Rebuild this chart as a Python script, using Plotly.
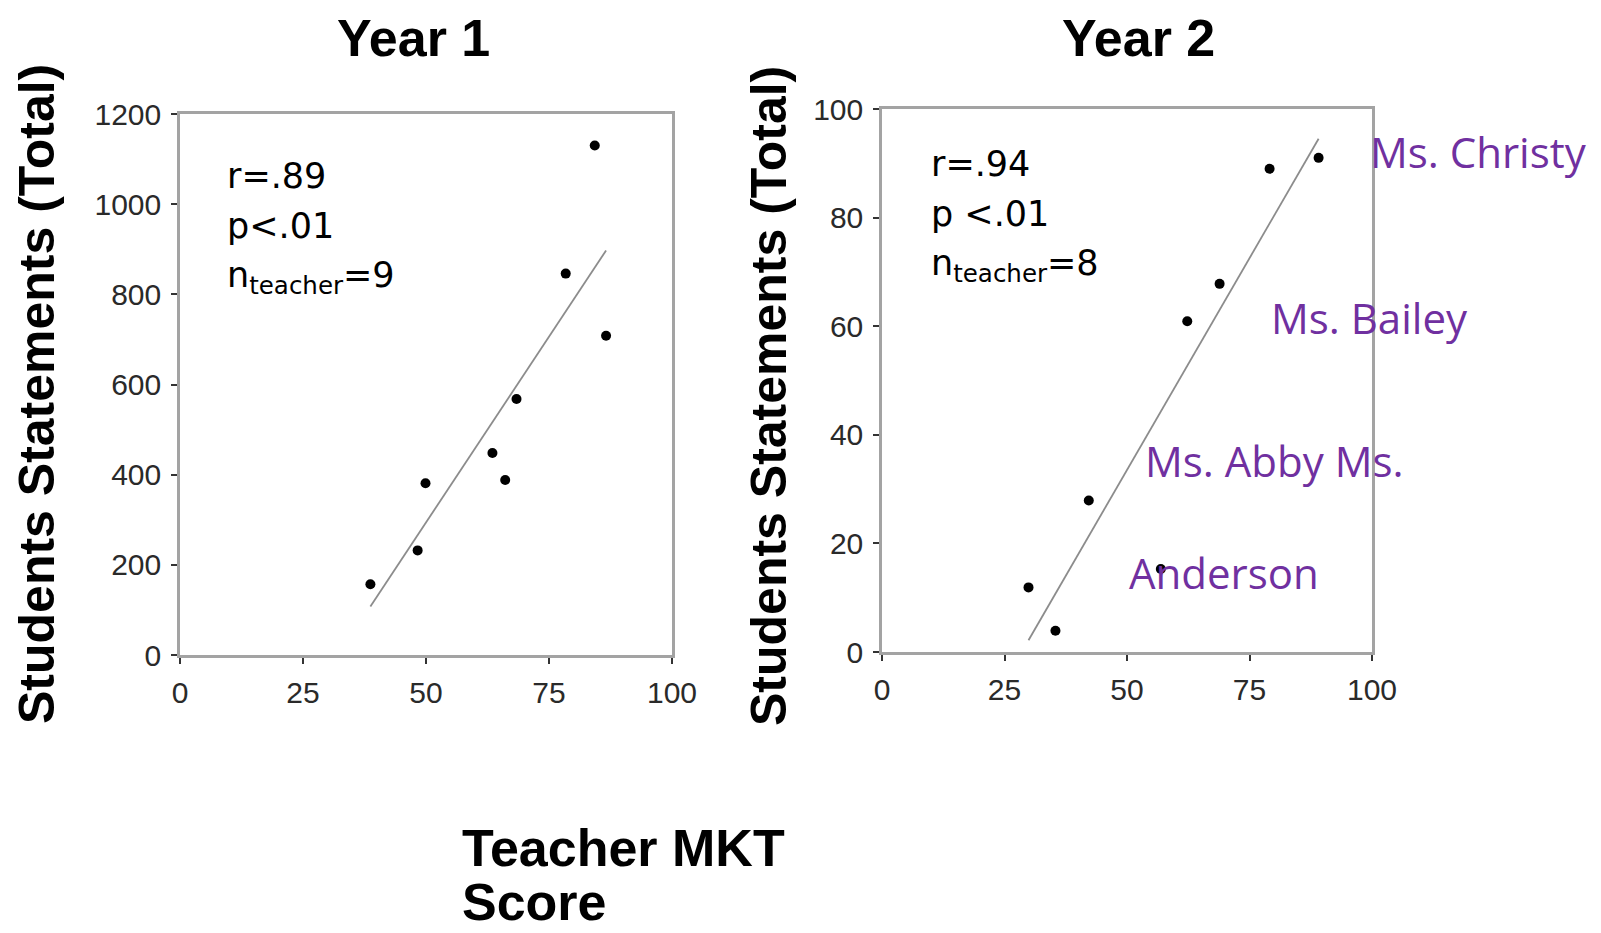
import numpy as np
import plotly.graph_objects as go

# Year 1: teacher MKT score vs. total student statements
y1_mkt = [38.7, 48.3, 49.9, 63.5, 66.1, 68.4, 78.4, 84.3, 86.6]
y1_statements = [157, 232, 381, 448, 388, 568, 846, 1130, 708]

# Year 2
y2_mkt = [29.9, 35.4, 42.2, 56.9, 62.3, 68.9, 79.1, 89.1]
y2_statements = [11.9, 3.9, 27.9, 15.3, 60.9, 67.8, 89.0, 91.0]

x_ticks = [0, 25, 50, 75, 100]
y1_ticks = [0, 200, 400, 600, 800, 1000, 1200]
y2_ticks = [0, 20, 40, 60, 80, 100]

teacher_labels = ["Ms. Christy", "Ms. Bailey", "Ms. Abby Ms.", "Anderson"]

W, H = 1601, 933


def px(x):
    return x / W


def py(y):
    return 1 - y / H


def fit_line(xs, ys):
    slope, intercept = np.polyfit(xs, ys, 1)
    xx = np.array([min(xs), max(xs)])
    return xx, slope * xx + intercept


fig = go.Figure()

for xs, ys, xa, ya in [(y1_mkt, y1_statements, "x", "y"),
                       (y2_mkt, y2_statements, "x2", "y2")]:
    fx, fy = fit_line(xs, ys)
    fig.add_trace(go.Scatter(x=fx, y=fy, mode="lines",
                             line=dict(color="#8c8c8c", width=1.8),
                             xaxis=xa, yaxis=ya, hoverinfo="skip"))
    fig.add_trace(go.Scatter(x=xs, y=ys, mode="markers",
                             marker=dict(color="black", size=10, symbol="circle"),
                             xaxis=xa, yaxis=ya))

tick_font = dict(family="Liberation Sans, Arial", size=30, color="#2a2a2a")
axis_common = dict(showline=True, mirror=True, linecolor="#a3a3a3", linewidth=2.5,
                   ticks="outside", ticklen=6, tickwidth=2, tickcolor="#333",
                   showgrid=False, zeroline=False, tickfont=tick_font,
                   fixedrange=True, automargin=False)

fig.update_layout(
    width=W, height=H,
    margin=dict(l=0, r=0, t=0, b=0, autoexpand=False),
    paper_bgcolor="white", plot_bgcolor="white",
    showlegend=False,
    xaxis=dict(domain=[px(180), px(672)], range=[0, 100], tickvals=x_ticks,
               anchor="y", ticklabelstandoff=3, **axis_common),
    yaxis=dict(domain=[py(655), py(114)], range=[0, 1200], tickvals=y1_ticks,
               anchor="x", ticklabelstandoff=4, **axis_common),
    xaxis2=dict(domain=[px(882), px(1372)], range=[0, 100], tickvals=x_ticks,
                anchor="y2", ticklabelstandoff=3, **axis_common),
    yaxis2=dict(domain=[py(652), py(109)], range=[0, 100], tickvals=y2_ticks,
                anchor="x2", ticklabelstandoff=4, **axis_common),
)

ann = []


def text(x, y, s, size, color="black", family="Liberation Sans, Arial",
         xanchor="left", angle=0):
    ann.append(dict(x=px(x), y=py(y), xref="paper", yref="paper", text=s,
                    showarrow=False, xanchor=xanchor, yanchor="middle",
                    textangle=angle,
                    font=dict(family=family, size=size, color=color)))


# Panel titles
text(413, 38, "<b>Year 1</b>", 52, xanchor="center")
text(1138, 38, "<b>Year 2</b>", 52, xanchor="center")

# Vertical axis titles
text(37, 394, "<b>Students Statements (Total)</b>", 50, xanchor="center", angle=-90)
text(769, 396, "<b>Students Statements (Total)</b>", 50, xanchor="center", angle=-90)

# Correlation statistics
stat_font = "DejaVu Sans"
text(225, 176, "r=.89", 35, family=stat_font)
text(225, 226, "p<.01", 35, family=stat_font)
text(225, 277, "n<sub>teacher</sub>=9", 35, family=stat_font)
text(929, 164, "r=.94", 35, family=stat_font)
text(929, 214, "p <.01", 35, family=stat_font)
text(929, 265, "n<sub>teacher</sub>=8", 35, family=stat_font)

# Teacher names
purple = "#7030a0"
for (lx, ly), name in zip([(1368, 152), (1269, 318), (1143, 460), (1127, 572)],
                          teacher_labels):
    text(lx, ly, name, 42, color=purple, family="Open Sans")

# Shared horizontal axis title
text(460, 848, "<b>Teacher MKT</b>", 52)
text(460, 902, "<b>Score</b>", 52)

fig.update_layout(annotations=ann)

fig.write_html("out.html")
